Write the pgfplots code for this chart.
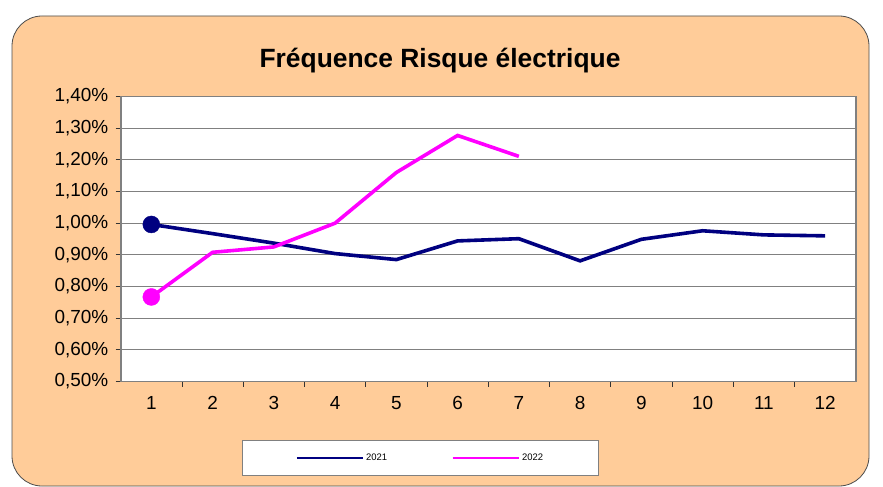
\documentclass[border=0pt]{standalone}
\usepackage{pgfplots}
\pgfplotsset{compat=1.18}
\usepackage{fontspec}
\setmainfont{Liberation Sans}
\definecolor{peach}{HTML}{FFCC99}
\definecolor{navy21}{HTML}{000080}
\definecolor{mag22}{HTML}{FF00FF}
\definecolor{gridg}{HTML}{808080}
\begin{document}
\begin{tikzpicture}[x=1bp,y=1bp]
\clip (0,0) rectangle (883,-487);
\path[use as bounding box] (0,0) rectangle (883,-487);
\draw[fill=peach, draw=black!70, line width=0.8bp, rounded corners=30bp] (12,-16) rectangle (869,-486);
\node[font=\bfseries\fontsize{26.5}{30}\selectfont] at (440,-61) {Fréquence Risque électrique};
\begin{axis}[
  at={(120.7bp,-381.5bp)}, anchor=south west,
  scale only axis, width=735bp, height=285bp,
  xmin=0.5, xmax=12.5, ymin=0.5, ymax=1.4,
  xtick={1,...,12},
  minor xtick={1.5,2.5,...,11.5},
  ytick={0.5,0.6,...,1.41},
  xtick pos=bottom, ytick pos=left,
  major x tick style={draw=none},
  minor x tick style={draw=black!80, line width=0.8bp},
  y tick style={draw=black!80, line width=0.8bp},
  tick align=outside,
  major tick length=5bp, minor tick length=5bp,
  ymajorgrids, major grid style={draw=gridg, line width=1.2bp},
  axis line style={draw=gridg, line width=1.8bp},
  axis background/.style={fill=white},
  tick label style={font=\fontsize{19}{22}\selectfont},
  /pgf/number format/assume math mode=true,
  yticklabel={\pgfmathprintnumber[fixed,fixed zerofill,precision=2,use comma]{\tick}\%},
  xticklabel style={yshift=-6bp},
  yticklabel style={xshift=-4bp},
  legend style={at={(0.4075,-0.2685)}, anchor=center, legend columns=2,
    draw=gridg, line width=1bp, fill=white,
    font=\fontsize{9.5}{11}\selectfont,
    inner xsep=53bp, inner ysep=11bp,
    /tikz/every even column/.append style={column sep=62bp}},
  legend image code/.code={\draw[#1, line width=2.8bp] (0bp,0bp) -- (66bp,0bp);},
  clip=false,
]
\addplot[navy21, line width=3.6bp] coordinates {
(1,0.996) (2,0.967) (3,0.937) (4,0.904) (5,0.885) (6,0.944) (7,0.951) (8,0.881) (9,0.949) (10,0.976) (11,0.963) (12,0.960)};
\addlegendentry{2021}
\addplot[mag22, line width=3.6bp] coordinates {
(1,0.767) (2,0.908) (3,0.925) (4,1.000) (5,1.160) (6,1.277) (7,1.211)};
\addlegendentry{2022}
\addplot[navy21, only marks, mark=*, mark size=8.5bp, forget plot] coordinates {(1,0.996)};
\addplot[mag22, only marks, mark=*, mark size=8.5bp, forget plot] coordinates {(1,0.767)};
\end{axis}
\end{tikzpicture}
\end{document}
